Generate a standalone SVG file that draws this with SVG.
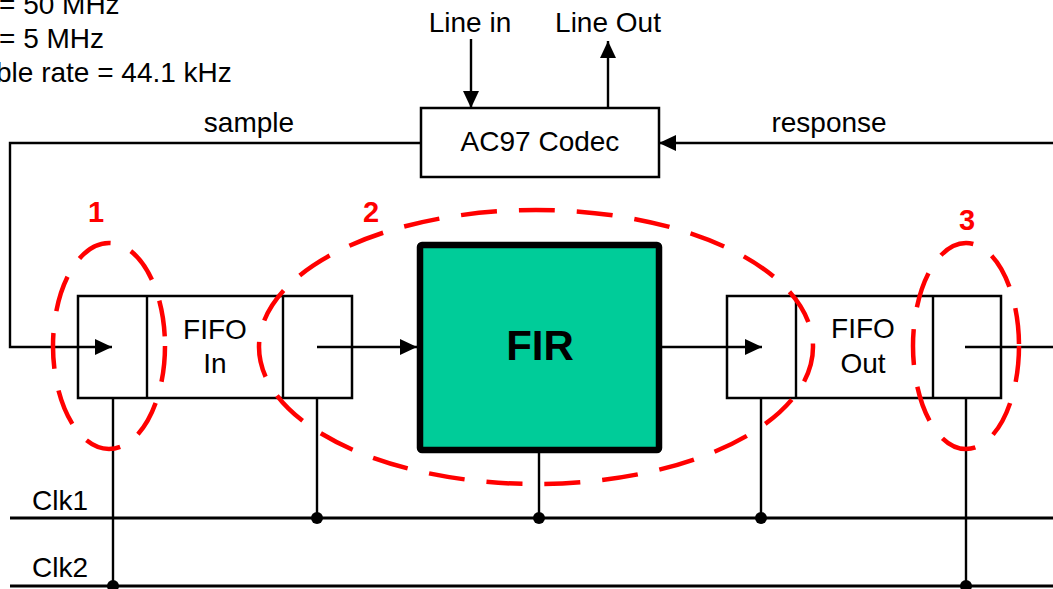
<svg xmlns="http://www.w3.org/2000/svg" width="1053" height="589" viewBox="0 0 1053 589">
<defs>
<marker id="ah" markerUnits="userSpaceOnUse" markerWidth="17" markerHeight="16" refX="17" refY="8" orient="auto">
<path d="M0,0 L17,8 L0,16 z" fill="#000"/>
</marker>
<style>
text{font-family:"Liberation Sans",Arial,sans-serif;fill:#000;font-size:28px}
.c{text-anchor:middle}
.box{fill:#fff;stroke:#000;stroke-width:2.5}
.ln{fill:none;stroke:#000;stroke-width:2.4}
.bus{fill:none;stroke:#000;stroke-width:3.2}
.arr{marker-end:url(#ah)}
.red{fill:none;stroke:#f00;stroke-width:4.5;stroke-dasharray:36 22}
.lbl{fill:#f00;font-weight:bold;font-size:29px;text-anchor:middle}
</style>
</defs>
<rect width="1053" height="589" fill="#fff"/>
<g id="notes">
<text x="-1" y="14">= 50 MHz</text>
<text x="-1" y="48">= 5 MHz</text>
<text x="-4" y="82">ble rate = 44.1 kHz</text>
</g>
<g id="clk1">
<line class="bus" x1="10" y1="518" x2="1053" y2="518"/>
<text x="32" y="510">Clk1</text>
</g>
<g id="clk2">
<line class="bus" x1="10" y1="586" x2="1053" y2="586"/>
<text x="32" y="577">Clk2</text>
</g>
<g id="ac97">
<rect class="box" x="421" y="108" width="238" height="69"/>
<text x="540" y="151" class="c">AC97 Codec</text>
</g>
<g id="fifo-in">
<rect class="box" x="78" y="296" width="274" height="102"/>
<line class="ln" x1="147" y1="296" x2="147" y2="398"/>
<line class="ln" x1="283" y1="296" x2="283" y2="398"/>
<text x="215" y="339" class="c">FIFO</text>
<text x="215" y="373" class="c">In</text>
</g>
<g id="fir">
<rect x="420" y="245" width="239" height="205" rx="2" fill="#00cc99" stroke="#000" stroke-width="6.5"/>
<text x="540" y="360" class="c" style="font-weight:bold;font-size:42px">FIR</text>
</g>
<g id="fifo-out">
<rect class="box" x="727" y="296" width="274" height="102"/>
<line class="ln" x1="796" y1="296" x2="796" y2="398"/>
<line class="ln" x1="933" y1="296" x2="933" y2="398"/>
<text x="863" y="338" class="c">FIFO</text>
<text x="863" y="373" class="c">Out</text>
</g>
<g id="connectors">
<polyline class="ln arr" points="421,143 10,143 10,347 112,347"/>
<line class="ln arr" x1="317" y1="347" x2="417" y2="347"/>
<line class="ln arr" x1="662" y1="347" x2="762" y2="347"/>
<line class="ln" x1="965" y1="347" x2="1053" y2="347"/>
<line class="ln arr" x1="1053" y1="143" x2="659" y2="143"/>
<line class="ln arr" x1="471" y1="39" x2="471" y2="108"/>
<line class="ln arr" x1="608" y1="108" x2="608" y2="41"/>
<line class="ln" x1="113" y1="398" x2="113" y2="586"/>
<line class="ln" x1="317" y1="398" x2="317" y2="518"/>
<line class="ln" x1="539" y1="453" x2="539" y2="518"/>
<line class="ln" x1="761" y1="398" x2="761" y2="518"/>
<line class="ln" x1="966" y1="398" x2="966" y2="586"/>
<circle cx="317" cy="518" r="6"/>
<circle cx="539" cy="518" r="6"/>
<circle cx="761" cy="518" r="6"/>
<circle cx="113" cy="586" r="6"/>
<circle cx="966" cy="586" r="6"/>
<text x="249" y="132" class="c">sample</text>
<text x="829" y="132" class="c">response</text>
<text x="470" y="32" class="c">Line in</text>
<text x="608" y="32" class="c">Line Out</text>
</g>
<g id="region1">
<ellipse class="red" cx="109" cy="346" rx="56" ry="103"/>
<text x="96" y="222" class="lbl">1</text>
</g>
<g id="region2">
<ellipse class="red" cx="536" cy="347" rx="277" ry="137"/>
<text x="371" y="222" class="lbl">2</text>
</g>
<g id="region3">
<ellipse class="red" cx="966" cy="346" rx="53" ry="103"/>
<text x="967" y="230" class="lbl">3</text>
</g>
</svg>
